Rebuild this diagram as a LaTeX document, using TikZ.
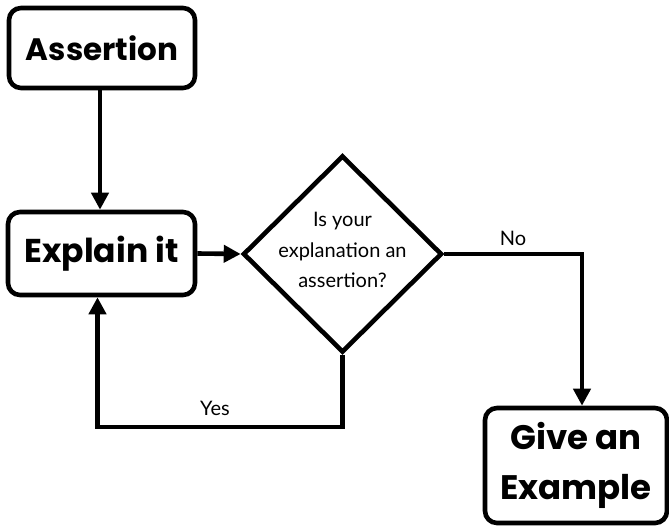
\documentclass[tikz,border=0pt]{standalone}
\usepackage{fontspec}
\usetikzlibrary{shapes.geometric,arrows.meta}
\newfontfamily\boxfont{Poppins}[UprightFont=* Bold,BoldFont=* Bold]
\newfontfamily\smallfont{Lato}
\begin{document}
\begin{tikzpicture}[x=1pt,y=-1pt,
  box/.style={draw=black,line width=4.6pt,rounded corners=12pt,fill=white,inner sep=0pt,align=center},
  decision/.style={draw=black,line width=4.6pt,diamond,inner sep=0pt,fill=white},
  conn/.style={line width=4.6pt,-{Triangle[length=17pt,width=17pt]}},
  lbl/.style={font=\smallfont\fontsize{20}{30.5}\selectfont,align=center,inner sep=0pt}]
\useasboundingbox (0,0) rectangle (669,527);
\node[box,minimum width=186pt,minimum height=80pt,font=\boxfont\fontsize{31}{50}\selectfont] (A) at (102,48) {Assertion};
\node[box,minimum width=187pt,minimum height=83pt,font=\boxfont\fontsize{33}{50}\selectfont] (E) at (101.5,253.5) {Explain it};
\node[box,minimum width=182pt,minimum height=115pt,font=\boxfont\fontsize{34}{50}\selectfont] (G) at (576,465.5) {Give an\\Example};
\node[decision,minimum width=199pt,minimum height=197pt] (D) at (342.5,254) {};
\node[lbl] (Q) at (342.5,250) {Is your\\explanation an\\assertion?};
\coordinate (ybot) at (97.5,427);
\coordinate (nocorner) at (582,254);
\draw[conn] (A.south -| 100,0) -- (E.north -| 100,0);
\draw[conn] (E.east) -- (D.west);
\draw[conn] (D.south) |- (ybot) -- (ybot |- E.south);
\draw[conn] (D.east) -- (nocorner) -- (nocorner |- G.north);
\node[lbl] (yes) at (215,408) {Yes};
\node[lbl] (no) at (513,238) {No};
\end{tikzpicture}
\end{document}
